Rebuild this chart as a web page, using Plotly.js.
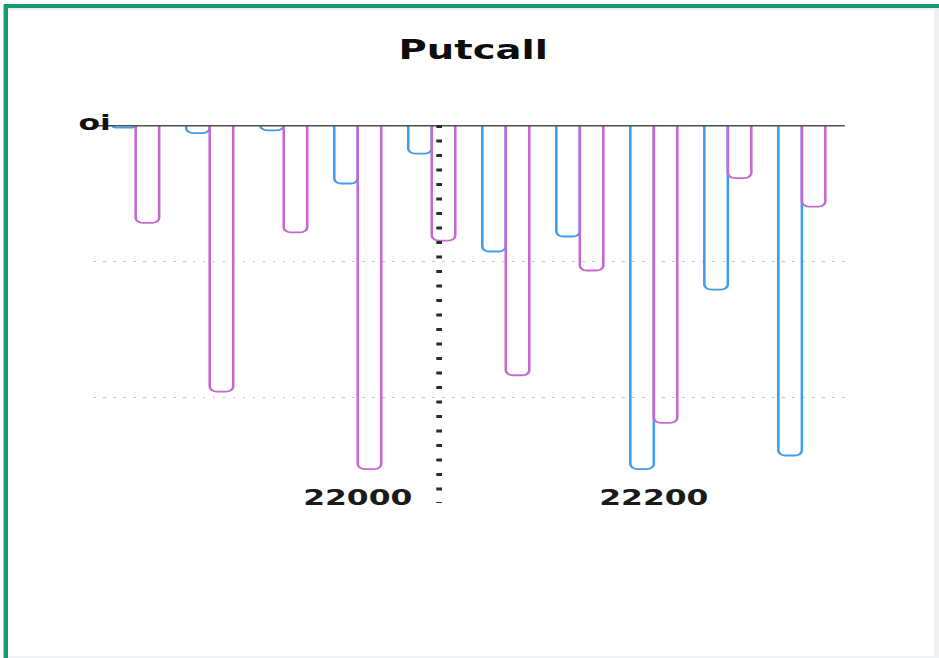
<!DOCTYPE html>
<html>
<head>
<meta charset="utf-8">
<script src="https://cdn.plot.ly/plotly-3.0.1.min.js"></script>
<style>
  html, body { margin: 0; padding: 0; background: #ffffff; width: 939px; height: 658px; overflow: hidden; }
  #stage { position: absolute; left: 0; top: 0; width: 939px; height: 658px; overflow: hidden; }
  #chart { position: absolute; left: 0; top: 0; width: 658px; height: 658px; transform: scaleX(1.427); transform-origin: 0 0; }
  .frame { position: absolute; pointer-events: none; }
</style>
</head>
<body>
<div id="stage">
  <div class="frame" style="left:8px; top:8px; width:931px; height:2px; background:#e9edef;"></div>
  <div class="frame" style="left:934px; top:10px; width:5px; height:648px; background:#eef0f2;"></div>
  <div class="frame" style="left:8px; top:656px; width:931px; height:2px; background:#f1f2f3;"></div>
  <div id="chart"></div>
  <div class="frame" style="left:4px; top:4px; width:935px; height:4px; background:#149b72;"></div>
  <div class="frame" style="left:4px; top:4px; width:4px; height:654px; background:#149b72;"></div>
  <div class="frame" style="left:3px; top:4px; width:1px; height:654px; background:#9fd6c3;"></div>
</div>
<script>
// Strike prices (x categories)
const strikes = [21850, 21900, 21950, 22000, 22050, 22100, 22150, 22200, 22250, 22300];
// Blue series (open interest)
const callOI = [2, 6, 4, 43, 21, 93, 82, 253, 121, 243];
// Purple series (open interest)
const putOI = [72, 196, 79, 253, 85, 184, 107, 219, 39, 60];
// X tick labels
const tickVals = [22000, 22200];
const tickText = ['22000', '22200'];
// Spot marker (dotted vertical line)
const spot = 22055;

const blue = '#3f9cf0';
const purple = '#c768d2';

const traces = [
  {
    type: 'bar', name: 'Call OI', x: strikes, y: callOI,
    marker: { color: 'rgba(0,0,0,0)', line: { color: blue, width: 1.8 }, cornerradius: 5 },
    hoverinfo: 'x+y'
  },
  {
    type: 'bar', name: 'Put OI', x: strikes, y: putOI,
    marker: { color: 'rgba(0,0,0,0)', line: { color: purple, width: 1.8 }, cornerradius: 5 },
    hoverinfo: 'x+y'
  }
];

const font = 'DejaVu Sans, Verdana, sans-serif';

const layout = {
  width: 658, height: 658,
  margin: { l: 65, r: 66, t: 125, b: 176 },
  paper_bgcolor: 'rgba(0,0,0,0)',
  plot_bgcolor: 'rgba(0,0,0,0)',
  showlegend: false,
  barmode: 'group',
  bargap: 0.365,
  bargroupgap: 0,
  title: {
    text: 'Putcall',
    font: { family: font, size: 27, weight: 'bold', color: '#0d0d0d' },
    x: 0.504, xanchor: 'center', y: 0.924, yanchor: 'middle'
  },
  xaxis: {
    type: 'linear',
    range: [21821, 22329],
    tickmode: 'array', tickvals: tickVals, ticktext: tickText,
    tickfont: { family: font, size: 22, weight: 'bold', color: '#1a1a1a' },
    showgrid: false, zeroline: false, showline: false, ticks: ''
  },
  yaxis: {
    range: [262.5, 0],
    tick0: 0, dtick: 100,
    showticklabels: false,
    showgrid: true, gridcolor: '#c4c4c4', gridwidth: 1, griddash: '2px,5px',
    zeroline: false, showline: false, ticks: ''
  },
  shapes: [
    { type: 'line', xref: 'paper', x0: 0, x1: 1, yref: 'y', y0: 0, y1: 0,
      line: { color: '#4f4f4f', width: 3 }, layer: 'above' },
    { type: 'line', xref: 'x', x0: spot, x1: spot, yref: 'paper', y0: 1, y1: -0.059,
      line: { color: '#2a2a2a', width: 4, dash: '3px,11.5px' }, layer: 'above' }
  ],
  annotations: [
    { text: 'oi', xref: 'paper', yref: 'paper', x: 0.003, y: 1, xanchor: 'center', yanchor: 'middle',
      yshift: 3, showarrow: false, font: { family: font, size: 22, weight: 'bold', color: '#111111' } }
  ]
};

Plotly.newPlot('chart', traces, layout, { staticPlot: true, displayModeBar: false });
</script>
</body>
</html>
